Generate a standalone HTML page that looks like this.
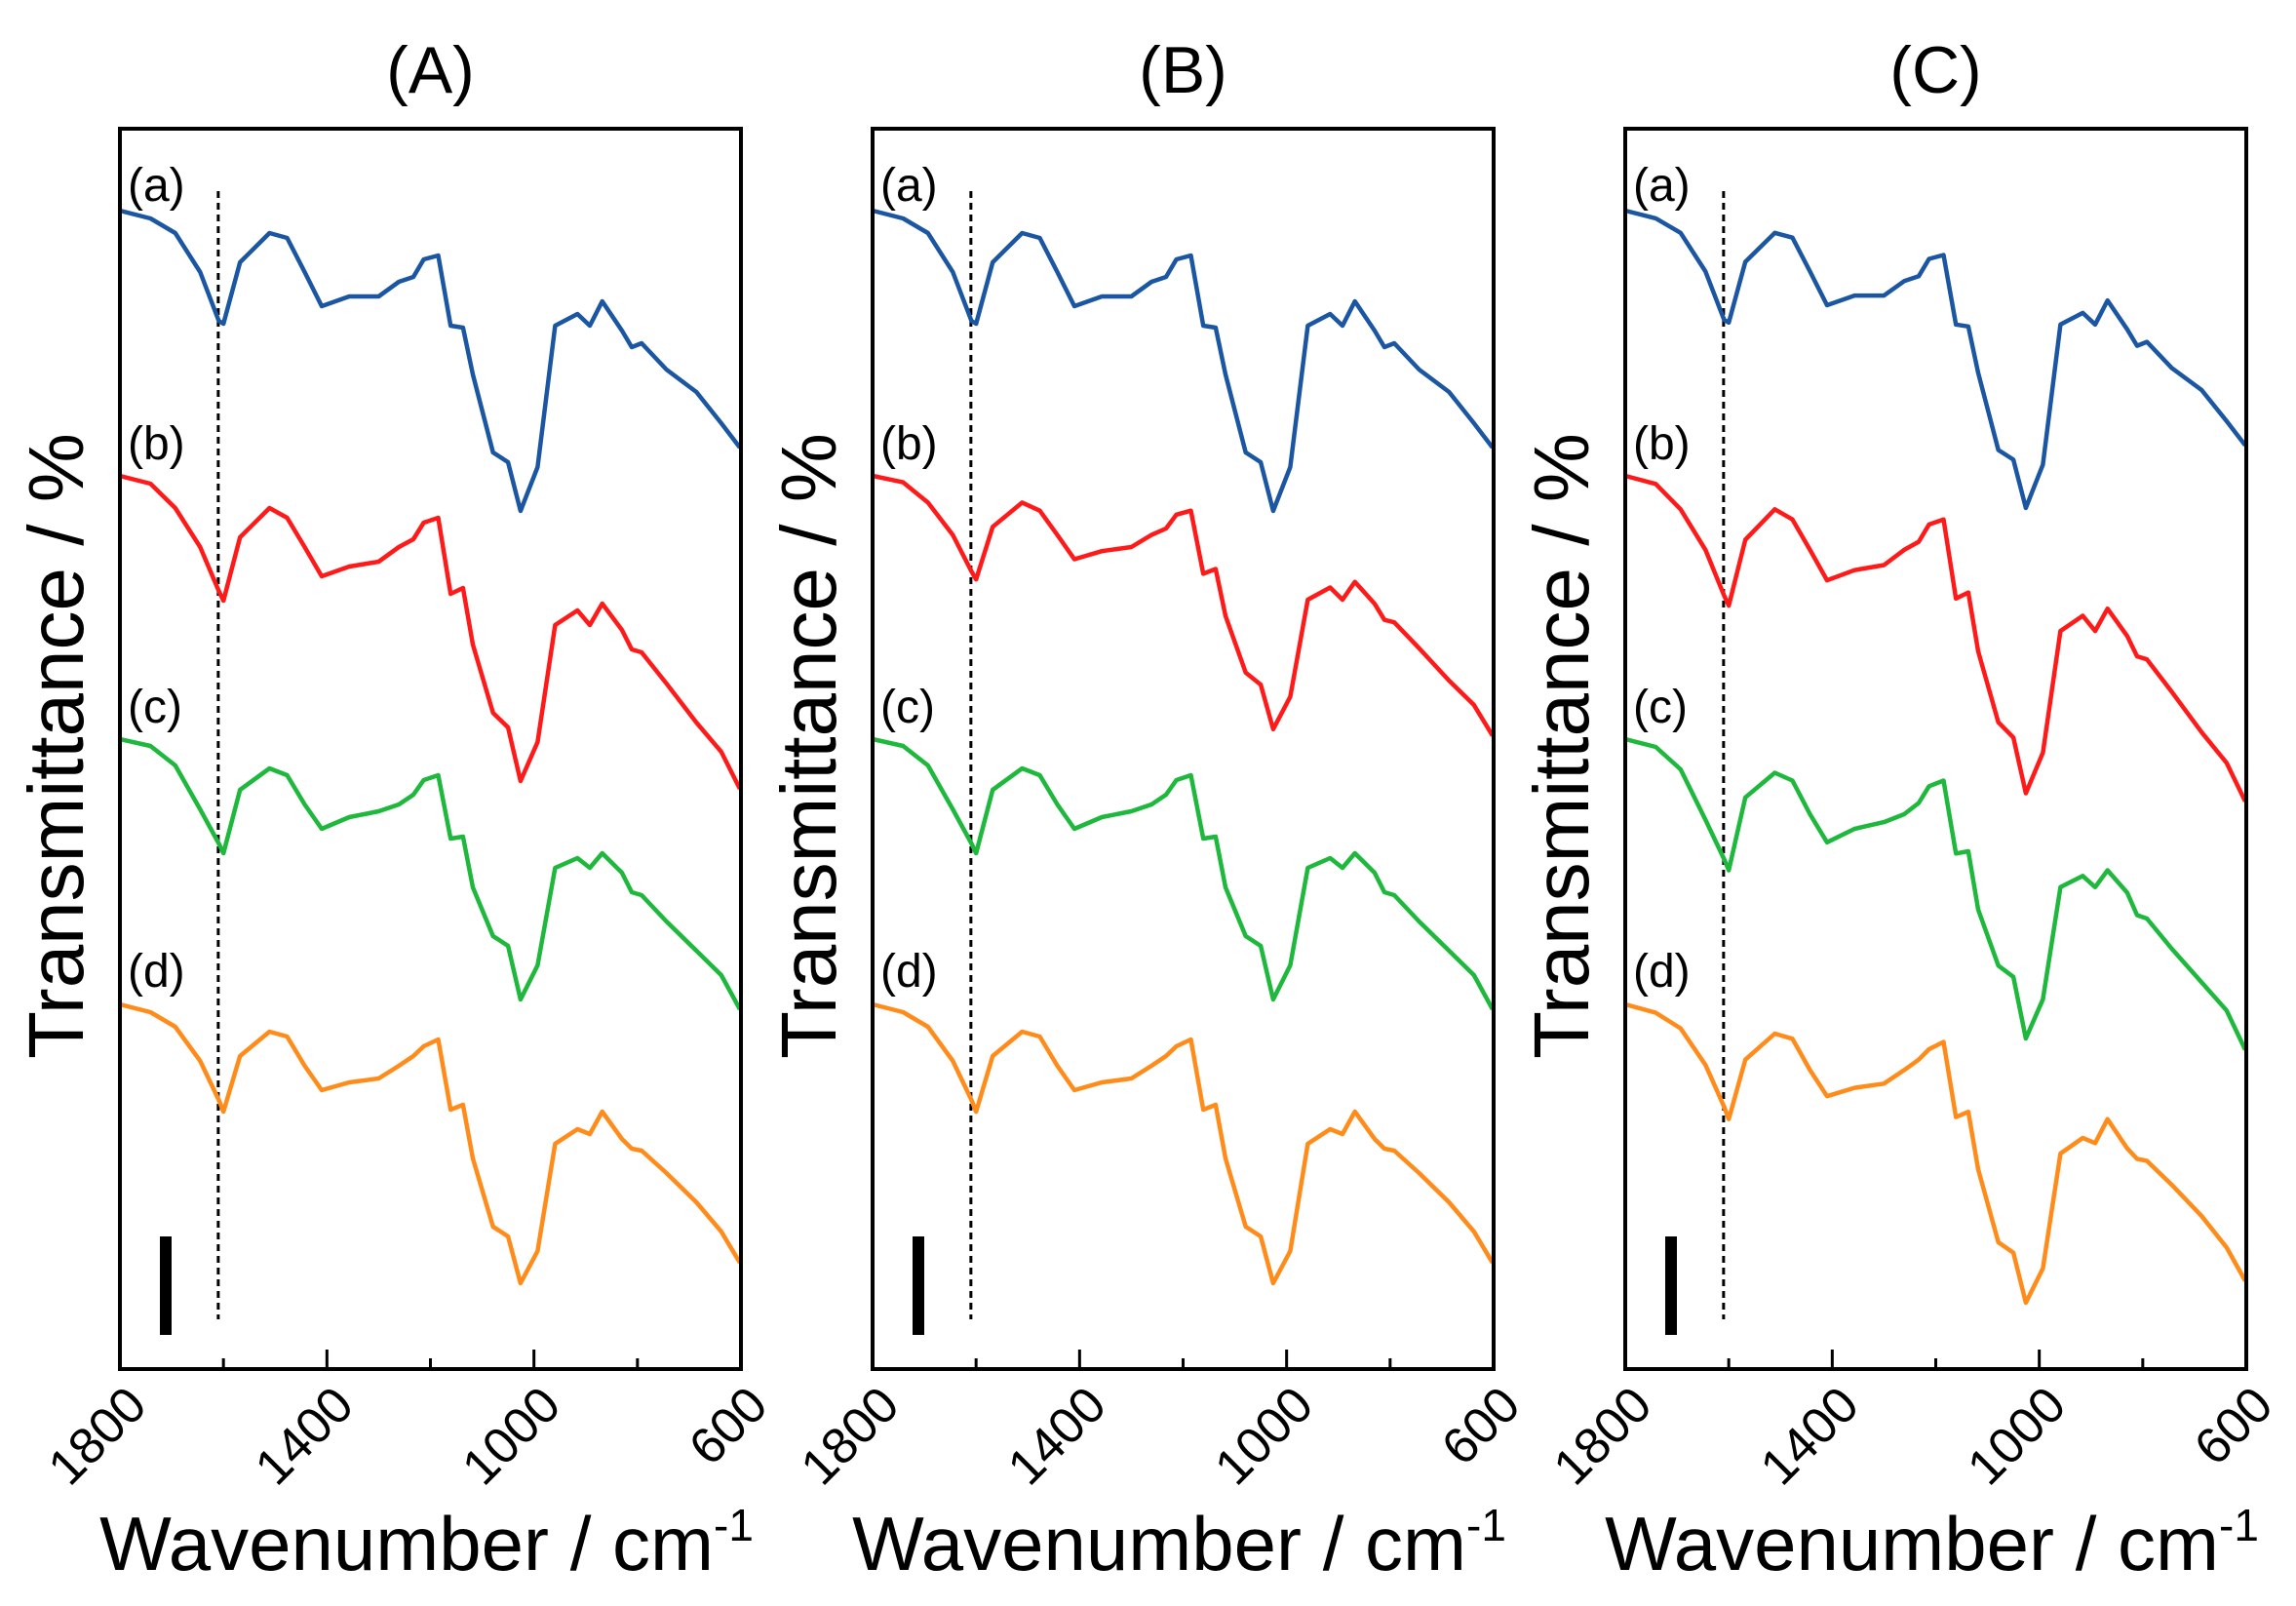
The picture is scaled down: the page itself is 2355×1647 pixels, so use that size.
<!DOCTYPE html>
<html><head><meta charset="utf-8"><style>
html,body{margin:0;padding:0;background:#fff;}
svg{display:block;font-family:"Liberation Sans",sans-serif;}
</style></head><body>
<svg id="chart" width="2355" height="1647" viewBox="0 0 2355 1647" xmlns="http://www.w3.org/2000/svg"></svg>
<script>
const wavenumbers=[1800,1741,1693,1645,1609,1600,1568,1511,1477,1443,1410,1357,1300,1261,1233,1213,1185,1161,1137,1118,1079,1050,1026,993,959,916,892,868,830,811,792,744,686,638,602];
const dropA=[0,8,23,63,113,116,53,23,28,63,98,88,88,73,68,50,46,118,120,168,248,258,308,263,118,106,118,93,123,140,136,163,186,218,243];
const dropB=[0,8,33,73,118,128,63,33,43,73,103,93,88,73,65,48,43,121,115,173,243,258,313,273,153,138,153,131,158,178,181,213,253,283,321];
const dropC=[0,7,27,72,107,117,52,30,37,67,92,80,74,67,57,42,37,102,100,152,202,212,267,232,132,122,132,117,137,157,160,187,217,242,277];
const dropD=[0,8,23,58,98,110,53,28,33,63,88,80,76,63,53,43,36,108,103,158,228,238,286,253,143,128,133,110,138,148,150,173,203,233,265];
const curveLabels=["(a)","(b)","(c)","(d)"];
const curveStarts=[216,488,758,1030];
const panelTitles=["(A)","(B)","(C)"];
const panelAmp=[[1.0,1.0,1.0,1.0],[1.0,0.83,1.0,1.0],[0.99,1.04,1.15,1.07]];
const tickValues=[1800,1600,1400,1200,1000,800,600];
const tickLabels=["1800","","1400","","1000","","600"];
const markerWn=1610;
const colors=["#1b56a3","#ff1a1a","#1db83c","#ff8c1a"];
const drops=[dropA,dropB,dropC,dropD];
const NS="http://www.w3.org/2000/svg";
const svg=document.getElementById('chart');
function mk(tag,attrs,parent){const e=document.createElementNS(NS,tag);for(const k in attrs)e.setAttribute(k,attrs[k]);(parent||svg).appendChild(e);return e;}
const panelLefts=[123,895,1667];
const W=637,TOP=132,BOT=1404;
panelLefts.forEach((L,p)=>{
  const g=mk('g',{});
  
  
  const xs=wn=>L+(1800-wn)/1200*W;
  const t=mk('text',{x:L+W/2,y:95,'font-size':68,'text-anchor':'middle'},g);t.textContent=panelTitles[p];
  
  
  const yl=mk('text',{x:0,y:0,'font-size':80,'text-anchor':'middle',transform:`translate(${L-38},765) rotate(-90)`},g);yl.textContent="Transmittance / %";
  
  
  const xl=mk('text',{x:L+W/2-4,y:1610,'font-size':78,'text-anchor':'middle'},g);
  xl.innerHTML='Wavenumber / cm<tspan dy="-30" font-size="46">-1</tspan>';
  
  
  const dl=mk('line',{x1:xs(markerWn),x2:xs(markerWn),y1:196,y2:1353,stroke:'#000','stroke-width':3,'stroke-dasharray':'7,5'},g);
  
  
  const sb=mk('rect',{x:L+41,y:1268,width:12,height:101,fill:'#000'},g);
  
  
  drops.forEach((d,i)=>{
    const pts=wavenumbers.map((wn,j)=>xs(wn).toFixed(1)+','+(curveStarts[i]+d[j]*panelAmp[p][i]).toFixed(1)).join(' ');
    const pl=mk('polyline',{points:pts,fill:'none',stroke:colors[i],'stroke-width':4.5,'stroke-linejoin':'round'},g);
    
    
    const lb=mk('text',{x:L+8,y:[206,471,741,1012][i],'font-size':48},g);lb.textContent=curveLabels[i];
    
    
  });
  tickValues.forEach((v,k)=>{
    const x=xs(v);
    const tk=mk('line',{x1:x,x2:x,y1:BOT,y2:BOT-(tickLabels[k]?20:11),stroke:'#000','stroke-width':3},g);
    
    
    if(tickLabels[k]){
      const tl=mk('text',{x:0,y:0,'font-size':52,'text-anchor':'end',transform:`translate(${x+30},${BOT+40}) rotate(-45)`},g);
      tl.textContent=tickLabels[k];
      
      
    }
  });
  const box=mk('rect',{x:L,y:TOP,width:W,height:BOT-TOP,fill:'none',stroke:'#000','stroke-width':4},g);
  
  
});
</script>
</body></html>
